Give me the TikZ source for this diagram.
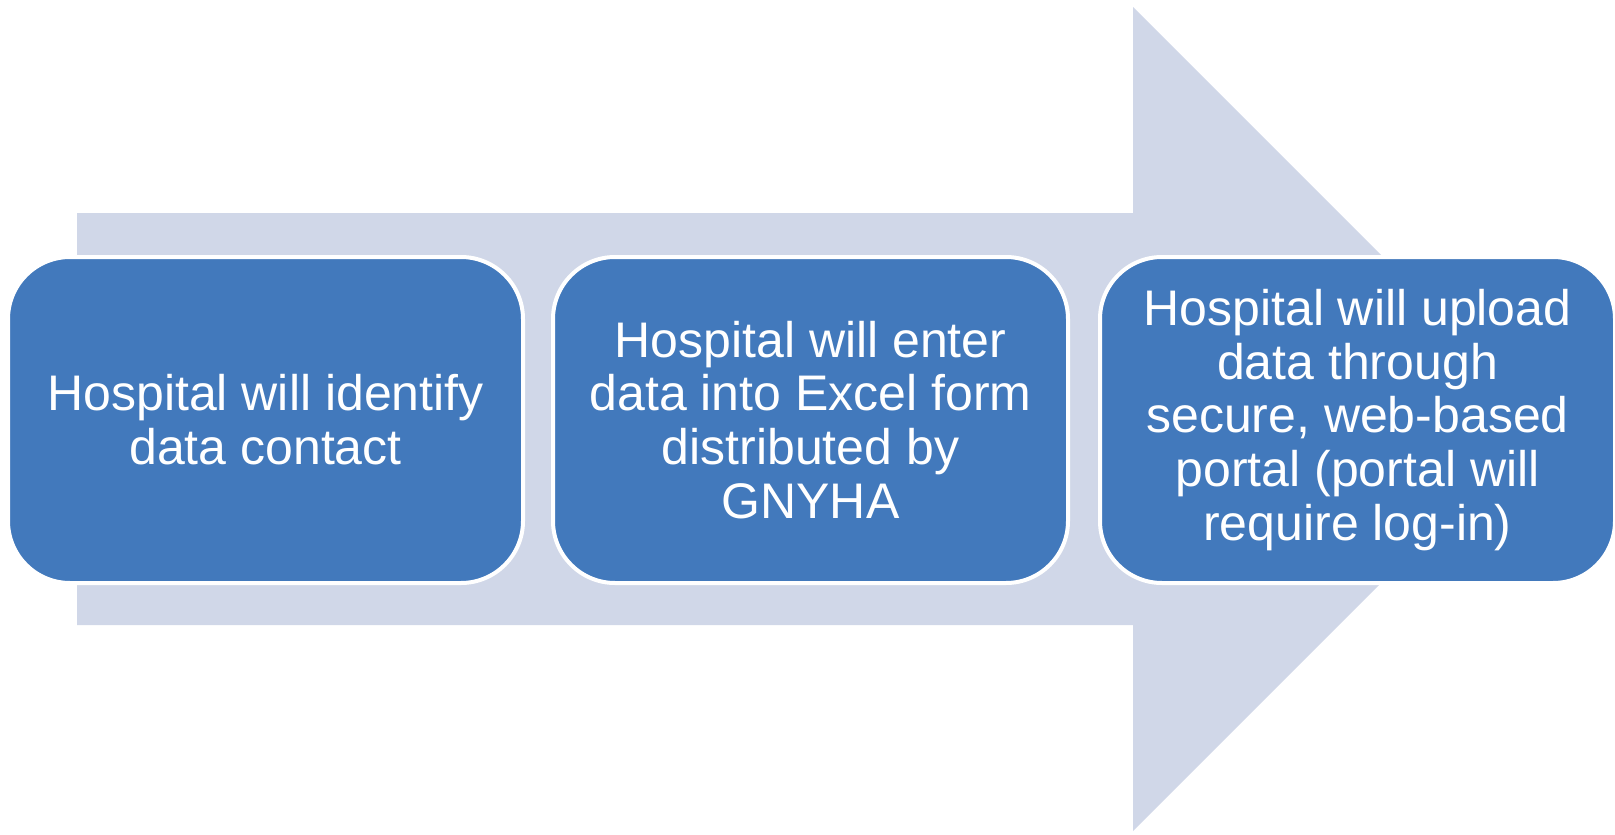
\documentclass[tikz,border=0pt]{standalone}
\usepackage{fontspec}
\setmainfont{Liberation Sans}
\usetikzlibrary{positioning}
\definecolor{stepblue}{RGB}{66,121,188}
\definecolor{arrowgray}{RGB}{208,215,232}
\tikzset{
	stepbox/.style={fill=stepblue,draw=white,line width=4pt,rounded corners=62pt,
		minimum width=515pt,minimum height=326pt,align=center,
		inner sep=0pt,text=white,font=\fontsize{50}{53.8}\selectfont},
}
\begin{document}
\begin{tikzpicture}[x=1pt,y=-1pt,line join=round]
			\useasboundingbox (0,0) rectangle (1615,835);
			% big arrow behind the steps
			\path 
			(77,213) coordinate (bl)
			(1133,7) coordinate (ht)
			(1545,419) coordinate (tip)
			(1133,831) coordinate (hb)
			;
			\fill[arrowgray] (bl) -- (ht |- bl) -- (ht) -- (tip) -- (hb)
			-- (1133,625) -- (77,625) -- cycle;
			% the three steps
			\node[stepbox] (contact) at (265.5,420) {Hospital will identify\\data contact};
			\node[stepbox,right=26pt of contact] (entry) {Hospital will enter\\data into Excel form\\distributed by\\GNYHA};
			\node[stepbox,right=28pt of entry] (upload) {Hospital will upload\\data through\\secure, web-based\\portal (portal will\\require log-in)};
	\end{tikzpicture}
\end{document}
